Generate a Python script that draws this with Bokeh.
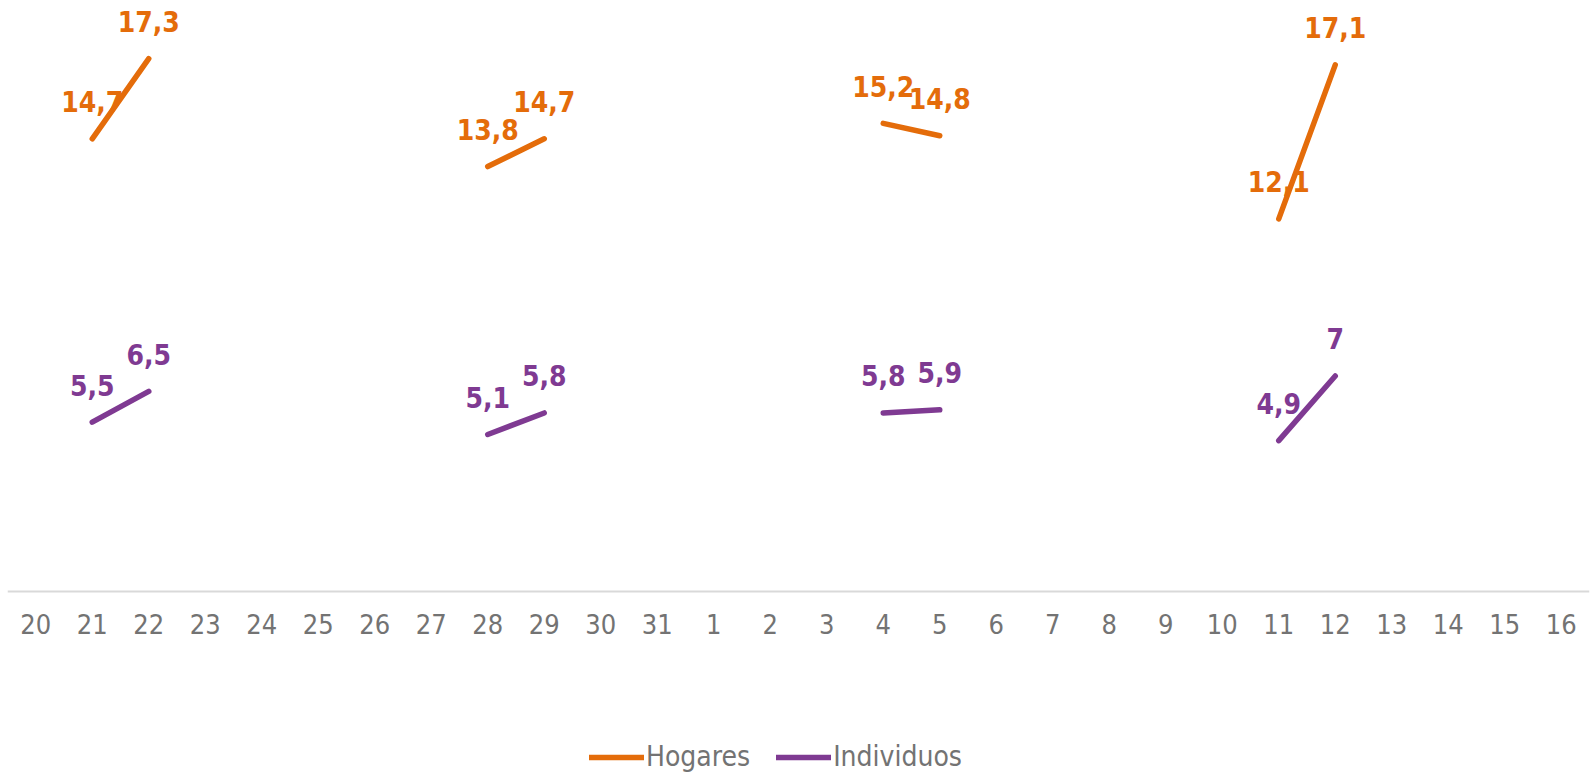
from bokeh.plotting import figure
from bokeh.models import FactorRange, Range1d, ColumnDataSource, Legend, LegendItem
from bokeh.core.properties import value
from bokeh.embed import file_html
from bokeh.resources import INLINE
import math

dias = ["20", "21", "22", "23", "24", "25", "26", "27", "28", "29", "30", "31",
        "1", "2", "3", "4", "5", "6", "7", "8", "9", "10", "11", "12", "13", "14", "15", "16"]

nan = float("nan")
hogares = [nan, 14.7, 17.3, nan, nan, nan, nan, nan, 13.8, 14.7, nan, nan,
           nan, nan, nan, 15.2, 14.8, nan, nan, nan, nan, nan, 12.1, 17.1, nan, nan, nan, nan]
individuos = [nan, 5.5, 6.5, nan, nan, nan, nan, nan, 5.1, 5.8, nan, nan,
              nan, nan, nan, 5.8, 5.9, nan, nan, nan, nan, nan, 4.9, 7.0, nan, nan, nan, nan]

ORANGE = "#E46C0A"
PURPLE = "#7F3A92"
GRAY = "#737373"
FONT = "'Liberation Sans Narrow', 'Arial Narrow', 'DejaVu Sans Condensed', sans-serif"

p = figure(x_range=FactorRange(*dias, range_padding=0), y_range=Range1d(-5.97, 18.93),
           frame_width=1582, frame_height=767, output_backend="svg", toolbar_location=None,
           min_border_left=7, min_border_right=4, min_border_top=8, min_border_bottom=0)
p.outline_line_color = None
p.xgrid.visible = False
p.ygrid.visible = False
p.yaxis.visible = False

ax = p.xaxis[0]
ax.fixed_location = 0
ax.axis_line_color = "#D9D9D9"
ax.axis_line_width = 2
ax.major_tick_line_color = None
ax.minor_tick_line_color = None
ax.major_label_standoff = 16
ax.major_label_text_font = FONT
ax.major_label_text_font_size = "27px"
ax.major_label_text_color = GRAY


def fmt(v):
    s = ("%.1f" % v).rstrip("0").rstrip(".")
    return s.replace(".", ",")


items = []
for name, vals, col in [("Hogares", hogares, ORANGE), ("Individuos", individuos, PURPLE)]:
    r = p.line(dias, vals, line_color=col, line_width=5.5, line_cap="round")
    items.append(LegendItem(label=name, renderers=[r]))
    xs = [d for d, v in zip(dias, vals) if not math.isnan(v)]
    ys = [v for v in vals if not math.isnan(v)]
    src = ColumnDataSource(dict(x=xs, y=ys, t=[fmt(v) for v in ys]))
    p.text("x", "y", text="t", source=src, text_align="center", text_baseline="middle",
           y_offset=-37, text_color=col, text_font=value(FONT), text_font_size="28px",
           text_font_style="bold")

leg = Legend(items=items, orientation="horizontal", location=(582, 2),
             border_line_color=None, background_fill_alpha=0,
             label_text_font=FONT, label_text_font_size="28px", label_text_color=GRAY,
             glyph_width=55, glyph_height=30, label_standoff=2, spacing=26,
             padding=0, margin=0)
p.add_layout(leg, "center")

open("out.html", "w").write(file_html(p, INLINE))
